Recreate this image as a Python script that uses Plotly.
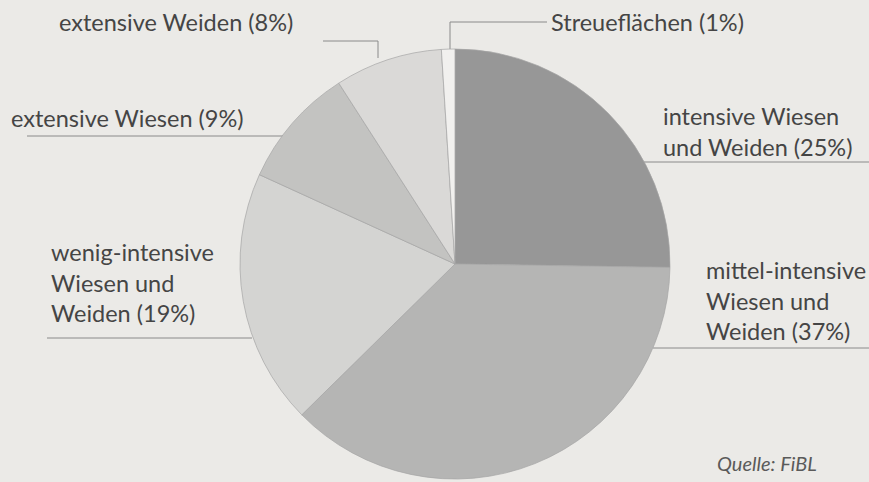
import plotly.graph_objects as go

# Grassland categories (clockwise from 12 o'clock) and their shares in percent
categories = [
    "intensive Wiesen und Weiden",
    "mittel-intensive Wiesen und Weiden",
    "wenig-intensive Wiesen und Weiden",
    "extensive Wiesen",
    "extensive Weiden",
    "Streueflächen",
]
shares = [25, 37, 19, 9, 8, 1]
label_lines = [
    "intensive Wiesen<br>und Weiden",
    "mittel-intensive<br>Wiesen und<br>Weiden",
    "wenig-intensive<br>Wiesen und<br>Weiden",
    "extensive Wiesen",
    "extensive Weiden",
    "Streueflächen",
]
slice_colors = ["#979797", "#b5b5b4", "#d4d4d2", "#c3c3c1", "#dad9d7", "#f1f0ee"]
source_note = "Quelle: FiBL"

W, H = 869, 482
BG = "#ebeae7"
TXT = "#454545"
LINE = "#8a8a8a"
FONT = "Lato"

cx, cy, r = 455, 264, 215

fig = go.Figure()
fig.add_trace(go.Pie(
    labels=categories,
    values=shares,
    sort=False,
    direction="clockwise",
    rotation=0,
    textinfo="none",
    hoverinfo="label+percent",
    marker=dict(colors=slice_colors, line=dict(color="#a5a5a5", width=0.7)),
    domain=dict(x=[(cx - r) / W, (cx + r) / W], y=[1 - (cy + r) / H, 1 - (cy - r) / H]),
    showlegend=False,
))

# Label text with percentage
texts = [f"{n} ({v}%)" for n, v in zip(label_lines, shares)]

# (x, y) of each label's left edge / vertical centre in pixel coordinates
label_pos = [
    (661, 131),
    (704, 300),
    (49, 282),
    (9, 118),
    (57, 22),
    (549, 22),
]

annotations = []
for t, (x, y) in zip(texts, label_pos):
    annotations.append(dict(
        x=x, y=y, xref="x", yref="y", text=t, showarrow=False,
        xanchor="left", yanchor="middle", align="left",
        font=dict(family=FONT, size=23.5, color=TXT),
    ))
annotations.append(dict(
    x=819, y=463, xref="x", yref="y", text=f"<i>{source_note}</i>", showarrow=False,
    xanchor="right", yanchor="middle",
    font=dict(family=FONT, size=20, color="#5a5a5a"),
))

# Leader lines (pixel coordinates)
leaders = [
    [(644, 162), (869, 162)],
    [(653, 348), (869, 348)],
    [(47, 338), (252, 338)],
    [(27, 136), (283, 136)],
    [(323, 41), (378, 41), (378, 58)],
    [(547, 22), (450, 22), (450, 49)],
]
shapes = []
for pts in leaders:
    for (x0, y0), (x1, y1) in zip(pts[:-1], pts[1:]):
        shapes.append(dict(type="line", xref="x", yref="y", x0=x0, y0=y0, x1=x1, y1=y1,
                           line=dict(color=LINE, width=1), layer="below"))

fig.update_layout(
    width=W, height=H,
    margin=dict(l=0, r=0, t=0, b=0),
    paper_bgcolor=BG, plot_bgcolor=BG,
    xaxis=dict(range=[0, W], visible=False, fixedrange=True),
    yaxis=dict(range=[H, 0], visible=False, fixedrange=True),
    annotations=annotations,
    shapes=shapes,
)

fig.write_html("out.html")
